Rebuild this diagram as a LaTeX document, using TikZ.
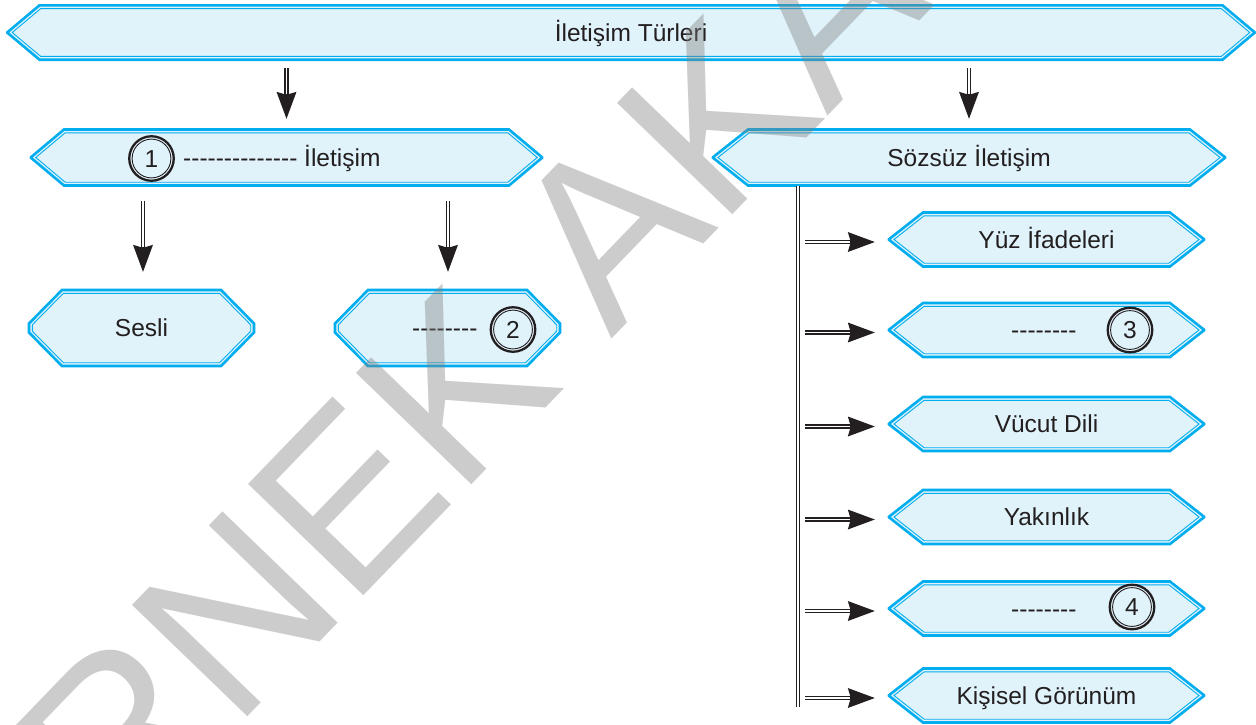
\documentclass[tikz,border=0pt]{standalone}
\usepackage{fontspec}
\newfontfamily\lsans{Liberation Sans}
\usetikzlibrary{arrows.meta,calc}
\definecolor{hexfill}{HTML}{E0F2FA}
\definecolor{hexline}{HTML}{00AEEF}
\definecolor{ink}{HTML}{231F20}
\pgfdeclarelayer{bg}\pgfdeclarelayer{fg}\pgfsetlayers{bg,main,fg}
\tikzset{
  frame/.style={rectangle, inner sep=0pt, text=ink, font=\lsans\fontsize{24.5}{29}\selectfont, text height=17.6pt, text depth=0pt},
  lbl/.style={inner sep=0pt, text=ink, font=\lsans\fontsize{24.5}{29}\selectfont, text height=17.6pt, text depth=0pt},
  numc/.style={circle, draw=ink, line width=2.3pt, minimum size=44.5pt, inner sep=0pt, text=ink, font=\lsans\fontsize{24.5}{29}\selectfont, text height=17.6pt, text depth=0pt},
  numin/.style={draw=ink, line width=0.9pt},
  hexout/.style={fill=hexfill, draw=hexline, line width=2.6pt, line join=miter},
  hexin/.style={draw=hexline, line width=0.9pt, line join=miter},
  arr/.style={draw=ink, line width=4.4pt, -{Stealth[length=27pt,width=20pt,inset=3pt,line width=0pt]},
    postaction={draw=white, line width=1.4pt, arrows=-, shorten >=24.5pt}},
  dline/.style={draw=ink, line width=4.6pt, postaction={draw=white, line width=1.5pt}},
  wm/.style={inner sep=0pt, text=black!50, text opacity=0.4, font=\lsans\fontsize{233}{233}\selectfont}
}
\newcommand\hexframe[5]{%
  \pgfmathsetmacro\hfW{#2}\pgfmathsetmacro\hfH{#3}\pgfmathsetmacro\hfa{#4}\pgfmathsetmacro\hfv{#5}%
  \pgfmathsetmacro\hfb{\hfH-\hfv}%
  \pgfmathsetmacro\hfL{sqrt(\hfa*\hfa+\hfb*\hfb)}%
  \pgfmathsetmacro\hfd{3.3}%
  \pgfmathsetmacro\hfHi{\hfH-\hfd}%
  \pgfmathsetmacro\hfxc{\hfW-\hfa-\hfd*(\hfL-\hfa)/\hfb}%
  \pgfmathsetmacro\hfvi{max(0,\hfv-\hfd*(\hfL-\hfb)/\hfa)}%
  \pgfmathsetmacro\hfxt{ifthenelse(\hfvi>0,\hfW-\hfd,\hfW+(\hfa*\hfv-\hfd*\hfL)/\hfb)}%
  \begin{pgfonlayer}{bg}
    \begin{scope}[shift={(#1.center)}]
      \filldraw[hexout] (-\hfW+\hfa,-\hfH) -- (\hfW-\hfa,-\hfH) -- (\hfW,-\hfv) -- (\hfW,\hfv) -- (\hfW-\hfa,\hfH) -- (-\hfW+\hfa,\hfH) -- (-\hfW,\hfv) -- (-\hfW,-\hfv) -- cycle;
      \draw[hexin] (-\hfxc,-\hfHi) -- (\hfxc,-\hfHi) -- (\hfxt,-\hfvi) -- (\hfxt,\hfvi) -- (\hfxc,\hfHi) -- (-\hfxc,\hfHi) -- (-\hfxt,\hfvi) -- (-\hfxt,-\hfvi) -- cycle;
    \end{scope}
  \end{pgfonlayer}}
\newcommand\hexnode[8]{%
  \node[frame, minimum width={2*#4pt}, minimum height={2*#5pt}] (#1) at (#2,#3) {#8};
  \hexframe{#1}{#4}{#5}{#6}{#7}}
\newcommand\numnode[4]{%
  \node[numc] (#1) at (#2,#3) {#4};
  \draw[numin] (#1.center) circle (19.4pt);}
\begin{document}
\begin{tikzpicture}[x=1pt,y=-1pt]
\useasboundingbox (0,0) rectangle (1256,724);
\begin{pgfonlayer}{bg}
  \fill[white] (0,0) rectangle (1256,724);
\end{pgfonlayer}
% top
\hexnode{T}{631}{32.5}{623.5}{27.2}{32}{0.3}{İletişim Türleri}
% level 2
\hexnode{N1}{286.5}{157.5}{255.5}{28}{33}{0.3}{}
\numnode{c1}{151.5}{158.5}{1}
\node[lbl, anchor=west] (t1) at (183,157.5) {-------------- İletişim};
\hexnode{S}{969}{157.5}{256}{28}{35}{0.3}{Sözsüz İletişim}
% level 3 left
\hexnode{Se}{141.5}{328}{112.5}{38}{33}{4.5}{Sesli}
\hexnode{N2}{447.5}{328}{112.5}{38}{33}{4.5}{}
\node[lbl, anchor=west] (t2) at (412,328) {--------};
\numnode{c2}{513}{329.5}{2}
% right column
\hexnode{Y1}{1046.5}{239.5}{157.5}{27}{34}{0.3}{Yüz İfadeleri}
\hexnode{Y2}{1046.5}{330}{157.5}{27}{34}{0.3}{}
\node[lbl, anchor=west] (t3) at (1011,330) {--------};
\numnode{c3}{1130}{330}{3}
\hexnode{Y3}{1046.5}{424}{157.5}{27}{34}{0.3}{Vücut Dili}
\hexnode{Y4}{1046.5}{517}{157.5}{27}{34}{0.3}{Yakınlık}
\hexnode{Y5}{1046.5}{608.5}{157.5}{27}{34}{0.3}{}
\node[lbl, anchor=west] (t5) at (1011,608.5) {--------};
\numnode{c5}{1132}{607}{4}
\hexnode{Y6}{1046.5}{695.5}{157.5}{27}{34}{0.3}{Kişisel Görünüm}
% connectors
\draw[arr] ($(T.south -| N1.north)+(0,8)$) -- ($(N1.north)+(0,-10.5)$);
\draw[arr] ($(T.south -| S.north)+(0,8)$) -- ($(S.north)+(0,-10.5)$);
\draw[arr] ($(N1.south -| Se.north)+(1.5,15)$) -- ($(Se.north)+(1.5,-18)$);
\draw[arr] ($(N1.south -| N2.north)+(0.5,15)$) -- ($(N2.north)+(0.5,-18)$);
\coordinate (vb) at (798,707);
\draw[dline] (S.south -| vb) -- (vb);
\foreach \n in {Y1,Y2,Y3,Y4,Y5,Y6}{
  \draw[arr] ($(vb |- \n.west)+(7,2.5)$) -- ($(\n.west)+(-14,2.5)$);
}
% watermark
\begin{pgfonlayer}{fg}
  \begin{scope}
    \clip (0,0) rectangle (1256,724);
    \node[wm, anchor=base west, rotate=46] (wm) at (117,852) {RNEK AKA};
  \end{scope}
\end{pgfonlayer}
\end{tikzpicture}
\end{document}
